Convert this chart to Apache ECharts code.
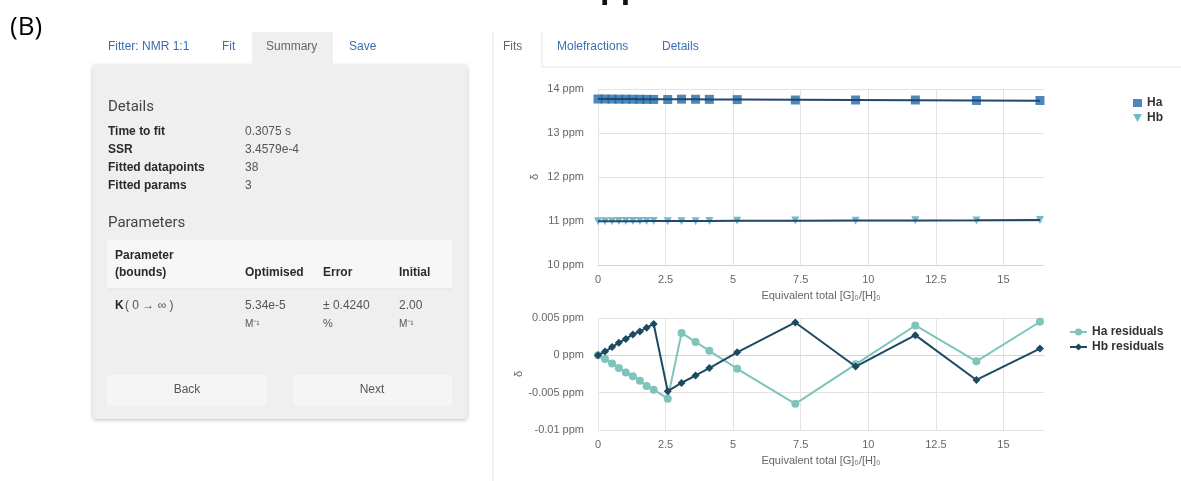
<!DOCTYPE html>
<html>
<head>
<meta charset="utf-8">
<script src="https://cdn.jsdelivr.net/npm/echarts@6/dist/echarts.min.js"></script>
<style>
html,body{margin:0;padding:0;background:#fff;}
#chart{width:1181px;height:481px;}
</style>
</head>
<body>
<div id="chart"></div>
<script>
// ---- data ----
const xEq   = [0, 0.26, 0.52, 0.77, 1.03, 1.29, 1.55, 1.8, 2.06, 2.58, 3.09, 3.61, 4.12, 5.15, 7.3, 9.53, 11.74, 14.0, 16.35];
const haObs = [13.773, 13.772, 13.771, 13.769, 13.769, 13.767, 13.766, 13.765, 13.763, 13.761, 13.769, 13.767, 13.765, 13.759, 13.750, 13.750, 13.750, 13.740, 13.739];
const haFit = [13.773, 13.772, 13.772, 13.771, 13.771, 13.770, 13.769, 13.769, 13.768, 13.767, 13.766, 13.765, 13.764, 13.761, 13.756, 13.751, 13.746, 13.741, 13.735];
const hbObs = [10.995, 10.996, 10.997, 10.998, 10.999, 11.000, 11.000, 11.002, 11.002, 10.994, 10.996, 10.997, 10.999, 11.003, 11.010, 11.008, 11.016, 11.013, 11.021];
const hbFit = [10.995, 10.995, 10.996, 10.996, 10.997, 10.997, 10.997, 10.998, 10.998, 10.999, 11.000, 11.000, 11.001, 11.003, 11.006, 11.009, 11.013, 11.016, 11.020];
const haRes = [0, -0.0005, -0.0011, -0.0017, -0.0023, -0.0028, -0.0034, -0.0041, -0.0046, -0.0058, 0.0030, 0.0018, 0.0006, -0.0018, -0.0065, -0.0012, 0.0040, -0.0008, 0.0045];
const hbRes = [0, 0.0005, 0.0011, 0.0017, 0.0022, 0.0028, 0.0032, 0.0037, 0.0042, -0.0048, -0.0037, -0.0027, -0.0017, 0.0004, 0.0044, -0.0015, 0.0027, -0.0033, 0.0009];
const xTicks = [0, 2.5, 5, 7.5, 10, 12.5, 15];
const seriesNames = ['Ha', 'Hb', 'Ha residuals', 'Hb residuals'];
const xAxisName = 'Equivalent total [G]\u2080/[H]\u2080';
const yAxisName = '\u03b4';
const detailLabels = ['Time to fit', 'SSR', 'Fitted datapoints', 'Fitted params'];
const detailValues = ['0.3075 s', '3.4579e-4', '38', '3'];

const zip = (xs, ys) => xs.map((x, i) => [x, ys[i]]);

const FONT = '"Liberation Sans", Arial, sans-serif';
const BLUE_LINK = '#3b6db3';
const TXT = {fontFamily: FONT, fontSize: 12};

function txt(x, y, text, extra) {
  return {type: 'text', x: x, y: y, style: Object.assign({text: text, fill: '#555', font: '12px ' + FONT, verticalAlign: 'middle'}, extra || {})};
}
function bold(x, y, text) {
  return txt(x, y, text, {fill: '#2a2a2a', font: 'bold 12px ' + FONT});
}

const graphics = [
  // (B) label and clipped heading fragment
  txt(10, 28, '(B)', {fill: '#000', font: '26px "Open Sans", sans-serif'}),
  txt(600, 6, 'ppm', {fill: '#111', font: 'bold 34px ' + FONT, verticalAlign: 'bottom'}),
  // left panel
  {type: 'rect', shape: {x: 93, y: 65, width: 374, height: 354, r: [0, 0, 4, 4]},
   style: {fill: '#efefef', shadowBlur: 4, shadowColor: 'rgba(0,0,0,0.25)', shadowOffsetY: 1}},
  {type: 'rect', shape: {x: 252, y: 32, width: 81, height: 34}, style: {fill: '#efefef'}},
  txt(108, 47, 'Fitter: NMR 1:1', {fill: BLUE_LINK}),
  txt(222, 47, 'Fit', {fill: BLUE_LINK}),
  txt(266, 47, 'Summary', {fill: '#666'}),
  txt(349, 47, 'Save', {fill: BLUE_LINK}),
  txt(108, 107, 'Details', {fill: '#444', font: '15px Roboto, sans-serif'}),
  txt(108, 223, 'Parameters', {fill: '#444', font: '15px Roboto, sans-serif'}),
  {type: 'rect', shape: {x: 107, y: 240, width: 345, height: 49}, style: {fill: '#f7f7f7'}},
  {type: 'line', shape: {x1: 107, y1: 289, x2: 452, y2: 289}, style: {stroke: '#dedede', lineWidth: 1}},
  bold(115, 256, 'Parameter'),
  bold(115, 273, '(bounds)'),
  bold(245, 273, 'Optimised'),
  bold(323, 273, 'Error'),
  bold(399, 273, 'Initial'),
  bold(115, 306, 'K'),
  txt(125, 306, '( 0 \u2192 \u221e )'),
  txt(245, 306, '5.34e-5'),
  txt(245, 324, 'M\u207b\u00b9', {font: '10px ' + FONT}),
  txt(323, 306, '\u00b1 0.4240'),
  txt(323, 324, '%', {font: '11px ' + FONT}),
  txt(399, 306, '2.00'),
  txt(399, 324, 'M\u207b\u00b9', {font: '10px ' + FONT}),
  {type: 'rect', shape: {x: 107, y: 375, width: 160, height: 31, r: 2}, style: {fill: '#f5f5f5'}},
  {type: 'rect', shape: {x: 293, y: 375, width: 159, height: 31, r: 2}, style: {fill: '#f5f5f5'}},
  txt(187, 390, 'Back', {align: 'center'}),
  txt(372, 390, 'Next', {align: 'center'}),
  // right panel frame + tabs
  {type: 'line', shape: {x1: 493, y1: 32, x2: 493, y2: 481}, style: {stroke: '#e3e3e3', lineWidth: 1}},
  {type: 'line', shape: {x1: 542, y1: 32, x2: 542, y2: 67}, style: {stroke: '#e3e3e3', lineWidth: 1}},
  {type: 'line', shape: {x1: 542, y1: 67, x2: 1181, y2: 67}, style: {stroke: '#e3e3e3', lineWidth: 1}},
  txt(503, 47, 'Fits', {fill: '#666'}),
  txt(557, 47, 'Molefractions', {fill: BLUE_LINK}),
  txt(662, 47, 'Details', {fill: BLUE_LINK})
];
detailLabels.forEach((l, i) => {
  const y = 132 + i * 18;
  graphics.push(bold(108, y, l));
  graphics.push(txt(245, y, detailValues[i]));
});

const axisLabelStyle = {color: '#666', fontSize: 11, fontFamily: FONT};
function xAxisCfg(gridIndex) {
  return {
    type: 'value', gridIndex: gridIndex, min: 0, max: 16.5,
    name: xAxisName, nameLocation: 'middle', nameGap: 25,
    nameTextStyle: {color: '#666', fontSize: 11, fontFamily: FONT},
    axisLine: {show: true, lineStyle: {color: '#ccd6eb'}},
    axisTick: {show: false, customValues: xTicks},
    axisLabel: Object.assign({customValues: xTicks, margin: 9, formatter: v => String(v)}, axisLabelStyle),
    splitLine: {show: true, lineStyle: {color: '#e3e3e3'}}
  };
}
function yAxisCfg(gridIndex, min, max, interval) {
  return {
    type: 'value', gridIndex: gridIndex, min: min, max: max, interval: interval,
    name: yAxisName, nameLocation: 'middle', nameGap: 58, nameRotate: 90,
    nameTextStyle: {color: '#666', fontSize: 11, fontFamily: FONT},
    axisLine: {show: false}, axisTick: {show: false},
    axisLabel: Object.assign({margin: 14, formatter: v => parseFloat(v.toFixed(4)) + ' ppm'}, axisLabelStyle),
    splitLine: {show: true, lineStyle: {color: '#e3e3e3'}}
  };
}

const option = {
  animation: false,
  backgroundColor: '#fff',
  textStyle: TXT,
  graphic: graphics,
  grid: [
    {left: 598, width: 446, top: 89, height: 176},
    {left: 598, width: 446, top: 318, height: 112}
  ],
  xAxis: [xAxisCfg(0), xAxisCfg(1)],
  yAxis: [yAxisCfg(0, 10, 14, 1), yAxisCfg(1, -0.01, 0.005, 0.005)],
  legend: [
    {orient: 'vertical', left: 1128, top: 92, itemGap: 3, itemWidth: 9, itemHeight: 8,
     textStyle: {color: '#333', fontWeight: 'bold', fontSize: 12, fontFamily: FONT},
     data: [{name: seriesNames[0], icon: 'rect'}, {name: seriesNames[1], icon: 'path://M0,0 L10,0 L5,9 Z'}]},
    {orient: 'vertical', left: 1064, top: 321, itemGap: 3, itemWidth: 17, itemHeight: 9,
     textStyle: {color: '#333', fontWeight: 'bold', fontSize: 12, fontFamily: FONT},
     data: [seriesNames[2], seriesNames[3]]}
  ],
  series: [
    {name: seriesNames[0], type: 'scatter', xAxisIndex: 0, yAxisIndex: 0, symbol: 'rect', symbolSize: 9,
     itemStyle: {color: '#1f6aa8'}, data: zip(xEq, haObs), z: 2},
    {name: seriesNames[1], type: 'scatter', xAxisIndex: 0, yAxisIndex: 0, symbol: 'triangle', symbolRotate: 180, symbolSize: 8,
     itemStyle: {color: '#4fa9bc'}, data: zip(xEq, hbObs), z: 2},
    {name: 'Ha fit', type: 'line', xAxisIndex: 0, yAxisIndex: 0, showSymbol: false, symbol: 'none',
     lineStyle: {color: '#23466e', width: 2}, data: zip(xEq, haFit), z: 3},
    {name: 'Hb fit', type: 'line', xAxisIndex: 0, yAxisIndex: 0, showSymbol: false, symbol: 'none',
     lineStyle: {color: '#23466e', width: 2}, data: zip(xEq, hbFit), z: 3},
    {name: seriesNames[2], type: 'line', xAxisIndex: 1, yAxisIndex: 1, symbol: 'circle', symbolSize: 8,
     itemStyle: {color: '#7ec4ba'}, lineStyle: {color: '#7ec4ba', width: 2}, data: zip(xEq, haRes), z: 3},
    {name: seriesNames[3], type: 'line', xAxisIndex: 1, yAxisIndex: 1, symbol: 'diamond', symbolSize: 8,
     itemStyle: {color: '#1c4a63'}, lineStyle: {color: '#1c4a63', width: 2}, data: zip(xEq, hbRes), z: 4}
  ]
};

const chart = echarts.init(document.getElementById('chart'), null, {renderer: 'canvas'});
chart.setOption(option);
</script>
</body>
</html>
